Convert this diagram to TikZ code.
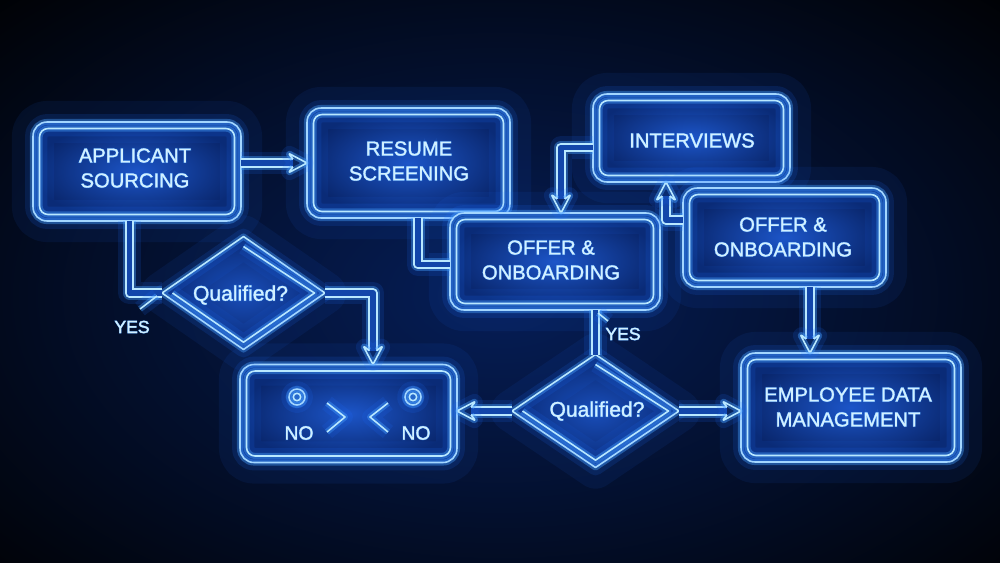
\documentclass[tikz,border=0pt]{standalone}
\usepackage{fontspec}
\setmainfont{Liberation Sans}
\newfontfamily\glowfont[FakeBold=3]{Liberation Sans}
\newfontfamily\glowfontB[FakeBold=7]{Liberation Sans}
\newfontfamily\corefont[FakeBold=0.6]{Liberation Sans}
\usetikzlibrary{shapes.geometric,calc}
\definecolor{corec}{RGB}{185,232,255}
\definecolor{glowc}{RGB}{30,110,255}
\definecolor{glowc2}{RGB}{70,160,255}
\definecolor{dblc}{RGB}{18,70,170}
\definecolor{boxin}{RGB}{28,85,200}
\definecolor{boxout}{RGB}{9,38,108}
\definecolor{haze}{RGB}{6,30,88}
\definecolor{txtc}{RGB}{210,240,255}
\definecolor{txtglow}{RGB}{60,150,255}
\newcommand\neon[2][]{\draw[glowA,#1]#2;\draw[glowB,#1]#2;\draw[core,#1]#2;}
\newcommand\conn[2][]{\draw[glowA,line width=13pt,#1]#2;\draw[glowB,line width=7.5pt,#1]#2;\draw[core,double=dblc,double distance=3.4pt,#1]#2;}
\newcommand\nbox[4]{%
 \node[boxsh, minimum width=#3, minimum height=#4] (#1) at (#2) {};
 \draw[glowO, rounded corners=0.28cm] (#1.south west) rectangle (#1.north east);
 \neon[rounded corners=0.28cm]{(#1.south west) rectangle (#1.north east)}
 \neon[rounded corners=0.17cm]{([shift={(0.13cm,0.13cm)}]#1.south west) rectangle ([shift={(-0.13cm,-0.13cm)}]#1.north east)}
}
\newcommand\ntext[4][11.5pt]{%
 \node[align=center, text=txtglow, opacity=0.22, font=\glowfontB\fontsize{#1}{14.2pt}\selectfont] (#2-gb) at (#3) {#4};
 \node[align=center, text=txtglow, opacity=0.5, font=\glowfont\fontsize{#1}{14.2pt}\selectfont] (#2-g) at (#3) {#4};
 \node[align=center, text=txtc, font=\corefont\fontsize{#1}{14.2pt}\selectfont] (#2) at (#3) {#4};}
\begin{document}
\begin{tikzpicture}[x=0.02cm,y=-0.02cm,
 glowO/.style={line width=24pt, draw=glowc, opacity=0.08, line join=round},
 glowA/.style={line width=9pt, draw=glowc, opacity=0.14, line join=round},
 glowB/.style={line width=3.5pt, draw=glowc2, opacity=0.4, line join=round},
 core/.style={line width=0.9pt, draw=corec, line join=round},
 boxsh/.style={rectangle, rounded corners=0.28cm, inner sep=0pt, outer sep=0pt, inner color=boxin, outer color=boxout},
 dmd/.style={diamond, inner sep=0pt, outer sep=0pt, inner color=boxin!85!boxout, outer color=boxout},
 ahead/.pic={\neon[rounded corners=1pt]{(-14,3.9) -- (-19,10) -- (0,0) -- (-19,-10) -- (-14,-3.9)}}
]
\useasboundingbox (0,0) rectangle (1000,562);
\fill[black] (0,0) rectangle (1000,562);
\begin{scope}
\clip (0,0) rectangle (1000,562);
\shade[inner color=haze, outer color=black] (500,295) ellipse (15cm and 9cm);
\end{scope}

% boxes
\nbox{A}{137,171.5}{4.16cm}{1.98cm}
\nbox{B}{408.5,163}{4.06cm}{2.2cm}
\nbox{C}{555,261.5}{4.2cm}{1.94cm}
\nbox{D}{691.5,138}{3.94cm}{1.76cm}
\nbox{E}{784.5,237.5}{4.06cm}{1.98cm}
\nbox{F}{851,407.5}{4.4cm}{2.18cm}
\nbox{G}{348.5,413.5}{4.34cm}{1.96cm}

% diamonds
\node[dmd, minimum width=3.26cm, minimum height=2.26cm] (Q1) at (243.5,293) {};
\node[dmd, minimum width=3.34cm, minimum height=2.26cm] (Q2) at (595.5,411) {};
\foreach \q in {Q1,Q2}{
 \draw[glowO] (\q.north) -- (\q.east) -- (\q.south) -- (\q.west) -- cycle;
 \neon{(\q.north) -- (\q.east) -- (\q.south) -- (\q.west) -- cycle}
 \neon{([xshift=0.21cm]\q.west) -- ([yshift=0.146cm]\q.south) -- ([xshift=-0.21cm]\q.east) -- ([yshift=-0.2cm]\q.north)}
}

% connectors
\conn[shorten >=0.28cm]{(A.east |- B.west) -- (B.west)}
\path (B.west) pic[rotate=0]{ahead};
\conn{([xshift=-0.15cm]A.south) |- (Q1.west)}
\conn[shorten >=0.28cm]{(Q1.east) -| ([xshift=0.49cm]G.north)}
\path ([xshift=0.49cm]G.north) pic[rotate=-90]{ahead};
\conn{([xshift=0.19cm]B.south) |- ([yshift=-0.06cm]C.west)}
\conn[shorten >=0.28cm]{([yshift=-0.19cm]D.west) -| ([xshift=0.12cm]C.north)}
\path ([xshift=0.12cm]C.north) pic[rotate=-90]{ahead};
\conn[shorten >=0.28cm]{([yshift=0.35cm]E.west) -| ([xshift=-0.51cm]D.south)}
\path ([xshift=-0.51cm]D.south) pic[rotate=90]{ahead};
\conn[shorten >=0.28cm]{([xshift=0.51cm]E.south) -- ([xshift=0.51cm]E.south |- F.north)}
\path ([xshift=0.51cm]E.south |- F.north) pic[rotate=-90]{ahead};
\conn{(Q2.north |- C.south) -- (Q2.north)}
\conn[shorten >=0.28cm]{(Q2.west) -- (Q2.west -| G.east)}
\path (Q2.west -| G.east) pic[rotate=180]{ahead};
\conn[shorten >=0.28cm]{(Q2.east) -- (Q2.east -| F.west)}
\path (Q2.east -| F.west) pic[rotate=0]{ahead};

% YES ticks
\coordinate (t1a) at (140,309); \coordinate (t1b) at (157,296);
\neon{(t1a) -- (t1b)}
\coordinate (t2a) at (598,313); \coordinate (t2b) at (608,321);
\neon{(t2a) -- (t2b)}

% NO box contents
\coordinate (c1) at (297,397); \coordinate (c2) at (413,397);
\foreach \c in {c1,c2}{
 \neon[glowA/.append style={line width=5pt}]{(\c) circle (0.16cm)}
 \neon[glowA/.append style={line width=3pt}]{(\c) circle (0.075cm)}
}
\coordinate (g1a) at (327,403); \coordinate (g1b) at (345,417); \coordinate (g1c) at (327,432);
\coordinate (g2a) at (388,403); \coordinate (g2b) at (370,417); \coordinate (g2c) at (388,432);
\neon{(g1a) -- (g1b) -- (g1c)}
\neon{(g2a) -- (g2b) -- (g2c)}

% texts
\ntext{tA}{135,168}{APPLICANT\\SOURCING}
\ntext{tB}{409,161}{RESUME\\SCREENING}
\ntext{tC}{551,260}{OFFER \&\\ONBOARDING}
\ntext{tD}{692,140.5}{INTERVIEWS}
\ntext{tE}{783,237}{OFFER \&\\ONBOARDING}
\ntext{tF}{848,407}{EMPLOYEE DATA\\MANAGEMENT}
\ntext[12pt]{tQ1}{240.5,295}{Qualified?}
\ntext[12pt]{tQ2}{597,411}{Qualified?}
\ntext[10pt]{tY1}{132,327}{YES}
\ntext[10pt]{tY2}{623,334}{YES}
\ntext[11pt]{tN1}{299,433}{NO}
\ntext[11pt]{tN2}{416,433}{NO}
\end{tikzpicture}
\end{document}
